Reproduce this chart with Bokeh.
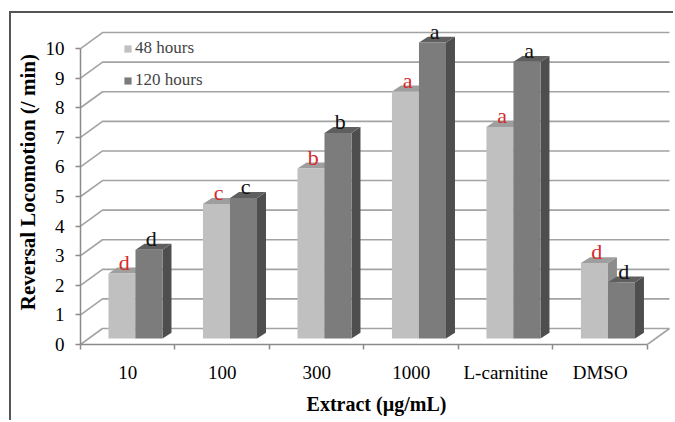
from bokeh.plotting import figure
from bokeh.models import FixedTicker, Legend, LegendItem
from bokeh.core.properties import value
from bokeh.embed import file_html
from bokeh.resources import INLINE

# ---- data ----
categories = ["10", "100", "300", "1000", "L-carnitine", "DMSO"]
hours48 = [2.2, 4.55, 5.75, 8.35, 7.15, 2.55]
hours120 = [3.0, 4.75, 6.95, 10.0, 9.35, 1.9]
letters48 = ["d", "c", "b", "a", "a", "d"]
letters120 = ["d", "c", "b", "a", "a", "d"]
y_ticks = list(range(0, 11))

FONT = "Liberation Serif"
n = len(categories)

# ---- 3D geometry (data units) ----
DX, DY = 0.233, 0.54      # depth of back wall
OX, OY = 0.082, 0.20      # bars sit at mid depth
BDX, BDY = 0.095, 0.20    # depth of the bars
W = 0.286                 # bar width

p = figure(width=664, height=409, x_range=(0, 6.265), y_range=(0, 11.15),
           output_backend="svg", toolbar_location=None,
           min_border_left=69, min_border_right=3, min_border_top=1, min_border_bottom=78)
p.styles = {"margin-left": "11px", "margin-top": "13px",
            "box-shadow": "-2px -2px 0px 0px #555555"}
p.outline_line_color = None
p.xgrid.visible = False
p.ygrid.visible = False
p.background_fill_color = "white"

# back wall gridlines
gx, gy = [], []
for t in y_ticks:
    gx.append([0, DX, n + DX])
    gy.append([t, t + DY, t + DY])
gx.append([n, n + DX])
gy.append([0, DY])
p.multi_line(gx, gy, line_color="#a3a3a3", line_width=1.6)

# bars
def bar_shapes(vals, s):
    fx0, fx1, fy1 = [], [], []
    tops_x, tops_y, sides_x, sides_y = [], [], [], []
    for i, v in enumerate(vals):
        x0 = i + 0.5 - W + s * W + OX
        x1 = x0 + W
        y0 = OY
        y1 = v + OY
        fx0.append(x0); fx1.append(x1); fy1.append(y1)
        tops_x.append([x0, x1, x1 + BDX, x0 + BDX])
        tops_y.append([y1, y1, y1 + BDY, y1 + BDY])
        sides_x.append([x1, x1, x1 + BDX, x1 + BDX])
        sides_y.append([y0, y1, y1 + BDY, y0 + BDY])
    return fx0, fx1, fy1, tops_x, tops_y, sides_x, sides_y

styles = [("#c0c0c0", "#9e9e9e", "#8c8c8c"), ("#7c7c7c", "#5f5f5f", "#4e4e4e")]
legend_rs = []
for s, (vals, cols) in enumerate(zip([hours48, hours120], styles)):
    fx0, fx1, fy1, tx, ty, sx, sy = bar_shapes(vals, s)
    p.patches(sx, sy, fill_color=cols[2], line_color=None)
    p.patches(tx, ty, fill_color=cols[1], line_color=None)
    r = p.quad(left=fx0, right=fx1, bottom=[OY] * n, top=fy1,
               fill_color=cols[0], line_color=None)
    legend_rs.append(r)

# significance letters
for s, (vals, labs, col) in enumerate([(hours48, letters48, "#d42a2a"),
                                        (hours120, letters120, "#111111")]):
    xs = [i + 0.5 - W + s * W + OX + W / 2 + BDX / 4 for i in range(n)]
    ys = [v + OY + BDY + 0.18 for v in vals]
    p.text(xs, ys, text=labs, text_color=col, text_font=value(FONT),
           text_font_size="22px", text_align="center", text_baseline="alphabetic")

# y axis
ya = p.yaxis[0]
ya.ticker = FixedTicker(ticks=y_ticks)
ya.bounds = (0, 10)
ya.axis_line_color = "#8a8a8a"
ya.axis_line_width = 1.5
ya.major_tick_line_color = "#8a8a8a"
ya.major_tick_line_width = 1.5
ya.major_tick_out = 5
ya.major_tick_in = 0
ya.minor_tick_line_color = None
ya.major_label_standoff = 11
ya.major_label_text_font = FONT
ya.major_label_text_font_size = "19px"
ya.major_label_text_color = "black"
ya.axis_label = "Reversal Locomotion  (/ min)"
ya.axis_label_text_font = FONT
ya.axis_label_text_font_style = "bold"
ya.axis_label_text_font_size = "21px"
ya.axis_label_text_color = "black"
ya.axis_label_standoff = 3

# x axis
xa = p.xaxis[0]
xa.ticker = FixedTicker(ticks=[i + 0.5 for i in range(n)], minor_ticks=list(range(n + 1)))
xa.major_label_overrides = {i + 0.5: c for i, c in enumerate(categories)}
xa.bounds = (0, n)
xa.axis_line_color = "#8a8a8a"
xa.axis_line_width = 1.5
xa.major_tick_line_color = None
xa.major_tick_out = 0
xa.major_tick_in = 0
xa.minor_tick_line_color = "#8a8a8a"
xa.minor_tick_line_width = 1.5
xa.minor_tick_out = 5
xa.minor_tick_in = 0
xa.major_label_standoff = 12
xa.major_label_text_font = FONT
xa.major_label_text_font_size = "19px"
xa.major_label_text_color = "black"
xa.axis_label = "Extract (µg/mL)"
xa.axis_label_text_font = FONT
xa.axis_label_text_font_style = "bold"
xa.axis_label_text_font_size = "20px"
xa.axis_label_text_color = "black"
xa.axis_label_standoff = 7

legend = Legend(items=[LegendItem(label="48 hours", renderers=[legend_rs[0]]),
                       LegendItem(label="120 hours", renderers=[legend_rs[1]])],
                location=(43, 254), glyph_width=9, glyph_height=9, label_standoff=3,
                padding=0, margin=0, spacing=12, label_height=20,
                label_text_font=FONT, label_text_font_size="17px",
                border_line_color=None, background_fill_alpha=0)
p.add_layout(legend)

open("out.html", "w").write(file_html(p, INLINE))
